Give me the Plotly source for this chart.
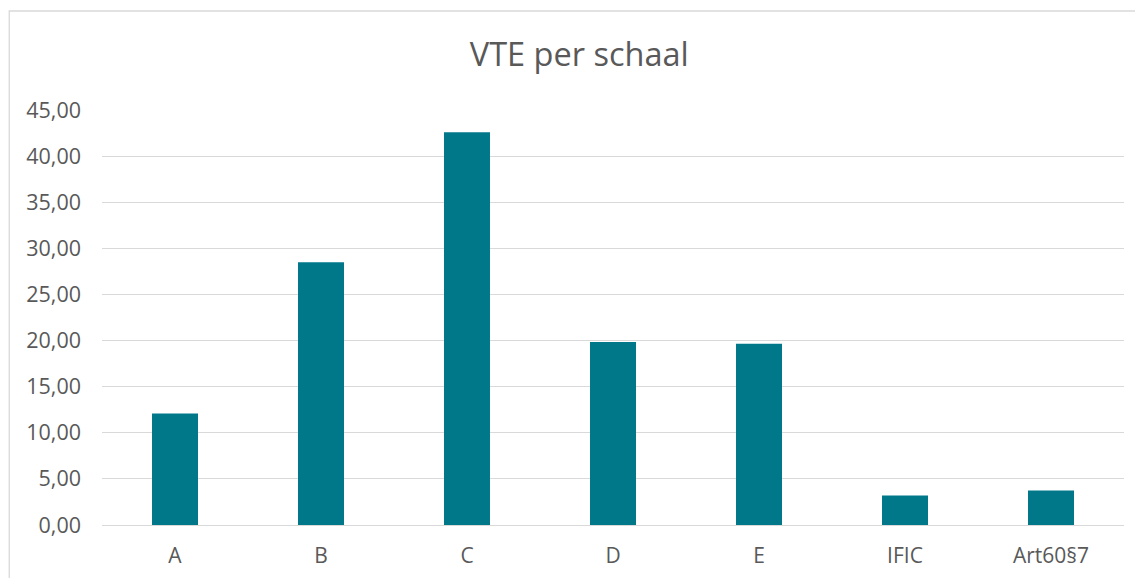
import plotly.graph_objects as go

categories = ["A", "B", "C", "D", "E", "IFIC", "Art60§7"]
values = [12.1, 28.5, 42.6, 19.85, 19.65, 3.2, 3.75]
title_text = "VTE per schaal"

# page body has an 8px margin; figure sized to fit the window
OFF = 8
W, H = 1143 - OFF, 578 - OFF
ml, mr, mt, mb = 93.5, 19, 102, 53
pw = W - ml - mr
ph = H - mt - mb

fig = go.Figure(go.Bar(
    x=categories, y=values,
    marker=dict(color="#00788A", line=dict(width=0)),
    hoverinfo="x+y",
))

def px_to_paper_x(px):
    return (px - ml) / pw

def px_to_paper_y(py):
    return (H - mb - py) / ph

fig.update_layout(
    width=W, height=H,
    margin=dict(l=ml, r=mr, t=mt, b=mb, autoexpand=False),
    paper_bgcolor="white", plot_bgcolor="white",
    separators=",.",
    bargap=0.685,
    showlegend=False,
    font=dict(family="Open Sans", color="#595959", size=20),
    title=dict(text=title_text, x=px_to_paper_x(571), xref="paper", xanchor="center",
               y=1 - 47 / H, yanchor="middle",
               font=dict(family="Open Sans", size=32.5, color="#595959")),
    xaxis=dict(showgrid=False, showline=False, zeroline=False, ticks="",
               ticklabelstandoff=16,
               tickfont=dict(size=21, color="#595959")),
    yaxis=dict(range=[0, 45], dtick=5, tickformat=".2f", showgrid=True,
               gridcolor="#d9d9d9", gridwidth=1.3, zeroline=True,
               zerolinecolor="#d9d9d9", zerolinewidth=1.3, showline=False,
               ticks="", ticklabelstandoff=20,
               tickfont=dict(size=21.5, color="#595959")),
    shapes=[dict(type="rect", xref="paper", yref="paper",
                 x0=px_to_paper_x(0.7), x1=px_to_paper_x(W + 20),
                 y0=px_to_paper_y(H + 20), y1=px_to_paper_y(3),
                 line=dict(color="#d9d9d9", width=1.3), fillcolor="rgba(0,0,0,0)",
                 layer="below")],
)

fig.write_html("out.html")
